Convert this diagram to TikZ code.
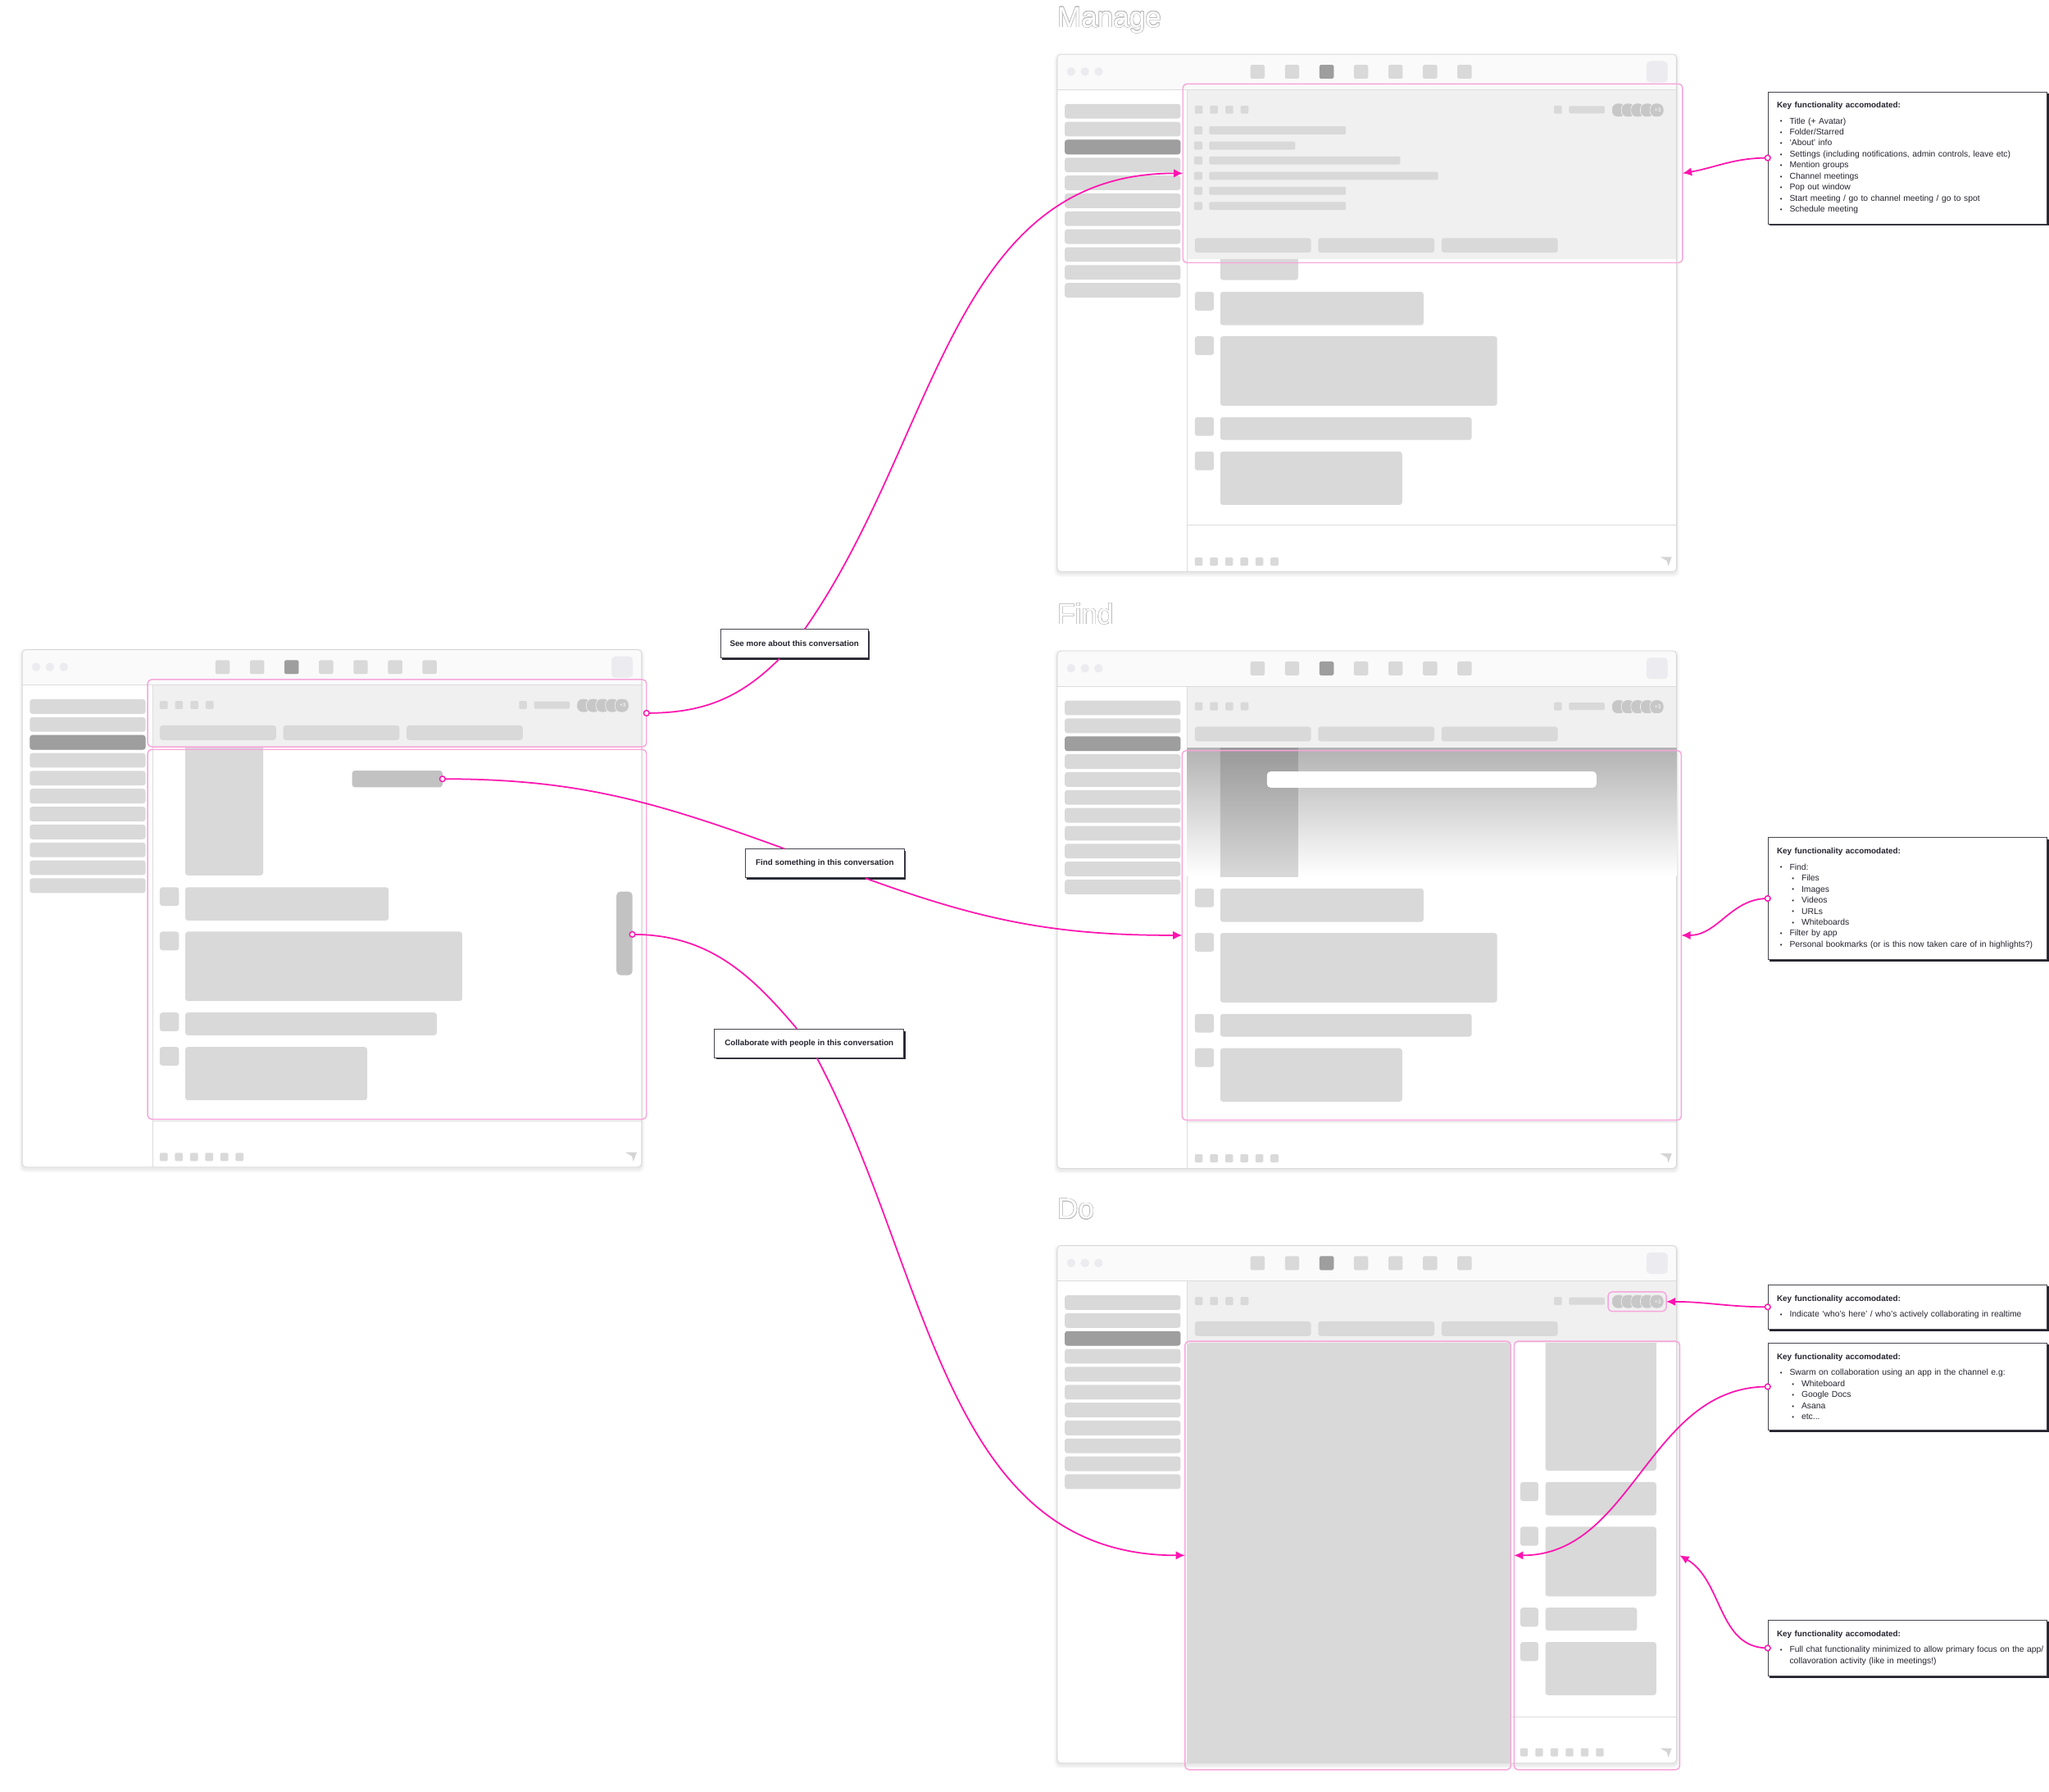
\documentclass[tikz,border=0pt]{standalone}
\usepackage{fontspec}
\setmainfont{Liberation Sans}
\usepackage{contour}
\usetikzlibrary{positioning, calc, arrows.meta, shadows}

\definecolor{hotpink}{HTML}{FF12B0}
\definecolor{softpink}{HTML}{F7A5DB}
\definecolor{ink}{HTML}{24242F}
\definecolor{skel}{HTML}{D9D9D9}
\definecolor{skeldark}{HTML}{9E9E9E}
\definecolor{skelmid}{HTML}{C2C2C2}
\definecolor{headbg}{HTML}{F0F0F0}
\definecolor{chromebg}{HTML}{FAFAFA}
\definecolor{dotgray}{HTML}{ECECF0}
\definecolor{rulegray}{HTML}{DCDCDC}

\contourlength{0.3pt}
\contournumber{32}

% bullets and headings for the key boxes
\newcommand{\kb}{\makebox[9.7pt][l]{\hspace{2.4pt}\raisebox{0.2pt}{\scalebox{0.75}{\textbullet}}}}
\newcommand{\kbb}{\hspace*{9.1pt}\kb}
\newcommand{\keyhead}{\bfseries\fontsize{6.2}{8.45}\selectfont}

\tikzset{
    skel/.style={fill=skel, rounded corners=1.6pt},
    skeldk/.style={fill=skeldark, rounded corners=1.6pt},
    seprule/.style={draw=rulegray, line width=0.5pt},
    focus/.style={draw=softpink, line width=0.9pt, rounded corners=3pt},
    link/.style={draw=hotpink, line width=1.1pt},
    linkto/.style={link, -{Latex[length=7pt, width=6.5pt]}},
    pin/.style={fill=white, draw=hotpink, line width=0.9pt},
    keybox/.style={draw=ink!85, fill=white, line width=0.6pt, anchor=north west,
        text width=200pt, inner xsep=6.8pt, align=left, text=ink,
        font=\fontsize{6.5}{8.45}\selectfont,
        drop shadow={shadow xshift=1.3pt, shadow yshift=-1.3pt, fill=ink, opacity=1}},
    tagbox/.style={draw=ink!85, fill=white, line width=0.6pt, text=ink, inner sep=0pt,
        font=\bfseries\fontsize{6.15}{7}\selectfont,
        drop shadow={shadow xshift=1.3pt, shadow yshift=-1.3pt, fill=ink, opacity=1}},
    screenttl/.style={anchor=base west, inner sep=0pt, text=white,
        font=\fontsize{22}{22}\selectfont},
}

% one chat window at the origin of the current scope
% #1 = prefix for node names, #2 = bottom of the channel header
\newcommand{\chatwin}[2]{%
    % frame and soft shadow
    \foreach \s/\o in {2.4/0.018, 1.6/0.025, 0.8/0.035}{
        \fill[black, opacity=\o, rounded corners=4pt] (-\s,{-\s+1.5}) rectangle ({474+\s},{396+\s+1.5});
    }
    \fill[white, rounded corners=3pt] (0,0) rectangle (474,396);

    % message list
    \begin{scope}
        \clip (99.6,#2) rectangle (474,396);
        \fill[skel, rounded corners=2pt] (124.8,60) rectangle (184.4,172.7);
    \end{scope}
    \foreach \ya/\xb/\yb in {181.8/280.4/207.3, 215.8/336.7/268.9, 277.7/317.2/295.1, 304/264/344.8}{
        \fill[skel, rounded corners=2pt] (105.3,\ya) rectangle ++(14.7,14.3);
        \fill[skel, rounded corners=2pt] (124.8,\ya) rectangle (\xb,\yb);
    }

    % channel header
    \fill[headbg] (99.6,27) rectangle (474,#2);
    \foreach \i in {0,...,3}{
        \fill[skel, rounded corners=0.8pt] ({105.3+11.7*\i},39.3) rectangle ++(6,6.2);
    }
    \fill[skel, rounded corners=0.8pt] (380.2,39.3) rectangle ++(6,6.2);
    \fill[skel, rounded corners=0.8pt] (391.7,39.6) rectangle (418.9,45.3);
    \foreach \i in {0,...,4}{
        \draw[fill=black!22, draw=black!5, line width=0.4pt, rounded corners=4.5pt]
            ({424.4+7.3*\i},37.5) rectangle ++(10.6,10.5);
    }
    \node[font=\fontsize{4.2}{4}\selectfont, text=white, inner sep=0pt] (#1plus) at (459.6,42.8) {+3};
    \foreach \x in {105.3, 199.7, 294.1}{
        \fill[skel, rounded corners=2pt] (\x,{#2-16.4}) rectangle ++(89,11.2);
    }

    % title bar
    \fill[chromebg, rounded corners=3pt] (0,0) rectangle (474,27);
    \fill[chromebg] (0,20) rectangle (474,27);
    \draw[seprule] (0,27) -- (474,27);
    \foreach \x in {10.6, 21.2, 31.7}{
        \fill[dotgray] (\x,13.3) circle (3.3pt);
    }
    \foreach \i in {0,...,6}{
        \fill[skel, rounded corners=1pt] ({147.9+26.4*\i},8.1) rectangle ++(10.9,10.6);
    }
    \fill[skeldk, rounded corners=1pt] (200.7,8.1) rectangle ++(10.9,10.6);
    \fill[dotgray, rounded corners=3pt] (450.9,5.2) rectangle (467.2,21.6);

    % sidebar
    \draw[seprule] (99.6,27) -- (99.6,396);
    \foreach \i in {0,...,10}{
        \fill[skel, rounded corners=2pt] (5.8,{38+13.7*\i}) rectangle ++(88.6,11.2);
    }
    \fill[skeldk, rounded corners=2pt] (5.8,65.4) rectangle ++(88.6,11.2);

    % composer
    \draw[seprule] (99.6,360.4) -- (474,360.4);
    \foreach \i in {0,...,5}{
        \fill[skel, rounded corners=0.8pt] ({105.3+11.6*\i},385.1) rectangle ++(6,6.2);
    }
    \fill[black!17] (461.5,384.6) -- (470.3,384.6) -- (467.6,391.6) -- (466.6,387.6) -- cycle;

    % outline
    \draw[black!16, line width=0.5pt, rounded corners=3pt] (0,0) rectangle (474,396);
}

\begin{document}
\begin{tikzpicture}[x=1pt, y=-1pt]

    % Canvas
    \useasboundingbox (0,0) rectangle (1568,1371);
    \fill[white] (0,0) rectangle (1568,1371);

    % Current conversation window
    \begin{scope}[shift={(17,497)}]
        \chatwin{cur}{74.4}
        \fill[skelmid, rounded corners=2pt] (252.5,92.6) rectangle (321.6,105.3);
        \fill[skelmid, rounded corners=3pt] (454.8,185.1) rectangle (466.9,249.1);
        \draw[focus] (96,22.9) rectangle (477.7,74.4);
        \draw[focus] (96,76.4) rectangle (477.7,359.3);
        \coordinate (srcAbout) at (477.7,48.6);
        \coordinate (srcFind) at (321.6,98.95);
        \coordinate (srcCollab) at (466.9,217.9);
    \end{scope}

    % Manage window
    \node[screenttl] (ttlManage) at (809,20.8) {\contour{black!25}{Manage}};
    \begin{scope}[shift={(809,41.5)}]
        \chatwin{man}{157}
        \foreach \yy/\xe in {58.2/221, 69.9/182.2, 81.3/262.4, 93/291.5, 104.5/221, 116.1/221}{
            \fill[skel, rounded corners=0.8pt] (104.8,{\yy-3.1}) rectangle ++(6.4,6.2);
            \fill[skel, rounded corners=0.8pt] (116.4,{\yy-3.1}) rectangle (\xe,{\yy+3.1});
        }
        \draw[focus] (96.2,22.7) rectangle (478.6,159.5);
        \coordinate (tgtManageL) at (96.2,91.1);
        \coordinate (tgtManageR) at (478.6,91.1);
    \end{scope}

    % Find window
    \node[screenttl] (ttlFind) at (809,477.6) {\contour{black!25}{Find}};
    \begin{scope}[shift={(809,498)}]
        \chatwin{fnd}{74.4}
        \shade[top color=black!30, bottom color=white] (99.6,74.4) rectangle (474,172.3);
        \shade[top color=black!40, bottom color=skel] (124.8,74.4) rectangle (184.4,172.7);
        \fill[white, rounded corners=3pt] (160.5,92.2) rectangle (412.7,104.7);
        \draw[focus] (95.6,76.3) rectangle (477.6,359);
        \coordinate (tgtFindL) at (95.6,217.6);
        \coordinate (tgtFindR) at (477.6,217.6);
    \end{scope}

    % Do window
    \node[screenttl] (ttlDo) at (809,932.5) {\contour{black!25}{Do}};
    \begin{scope}[shift={(809,953)}]
        \chatwin{do}{74.4}
        \fill[skel] (99.6,74.4) rectangle (347.1,396);
        \begin{scope}
            \clip (373.6,74.4) rectangle (458.4,180);
            \fill[skel, rounded corners=2pt] (373.6,60) rectangle (458.4,172.2);
        \end{scope}
        \foreach \ya/\xb/\yb in {180.9/458.4/206.4, 215.1/458.4/268.3, 277/443.7/294.6, 303.3/458.4/343.9}{
            \fill[skel, rounded corners=2pt] (354.4,\ya) rectangle ++(13.8,14.6);
            \fill[skel, rounded corners=2pt] (373.6,\ya) rectangle (\xb,\yb);
        }
        \foreach \i in {0,...,5}{
            \fill[skel, rounded corners=0.8pt] ({354.4+11.6*\i},384.5) rectangle ++(5.8,6.3);
        }
        \draw[focus] (421.6,35.4) rectangle (466.1,50.3);
        \draw[focus] (97.8,73.2) rectangle (347.1,401);
        \draw[focus] (349.6,73.2) rectangle (476.4,401);
        \coordinate (tgtDoAvatar) at (466.1,42.9);
        \coordinate (tgtDoApp) at (97.8,237);
        \coordinate (tgtDoChatL) at (349.6,237);
        \coordinate (tgtDoChatR) at (476.4,237);
    \end{scope}

    % Question labels
    \node[tagbox, minimum width=112.7pt, minimum height=22pt] (lblAbout) at (607.9,492.6)
        {See more about this conversation};
    \node[tagbox, minimum width=121.7pt, minimum height=21.9pt] (lblFind) at (631.2,660.6)
        {Find something in this conversation};
    \node[tagbox, minimum width=144.9pt, minimum height=21.7pt] (lblCollab) at (619.2,798.3)
        {Collaborate with people in this conversation};

    % Key functionality boxes
    \node[keybox, minimum height=101pt] (keyManage) at (1352.7,70) {%
        {\keyhead Key functionality accomodated:}\\[3.85pt]
        \kb Title (+ Avatar)\\
        \kb Folder/Starred\\
        \kb ‘About’ info\\
        \kb Settings (including notifications, admin controls, leave etc)\\
        \kb Mention groups\\
        \kb Channel meetings\\
        \kb Pop out window\\
        \kb Start meeting / go to channel meeting / go to spot\\
        \kb Schedule meeting};
    \node[keybox, minimum height=93.4pt] (keyFind) at (1352.7,640.4) {%
        {\keyhead Key functionality accomodated:}\\[3.85pt]
        \kb Find:\\
        \kbb Files\\
        \kbb Images\\
        \kbb Videos\\
        \kbb URLs\\
        \kbb Whiteboards\\
        \kb Filter by app\\
        \kb Personal bookmarks (or is this now taken care of in highlights?)};
    \node[keybox, minimum height=34.1pt] (keyWho) at (1352.7,982.6) {%
        {\keyhead Key functionality accomodated:}\\[3.85pt]
        \kb Indicate ‘who’s here’ / who’s actively collaborating in realtime};
    \node[keybox, minimum height=66.8pt] (keySwarm) at (1352.7,1027.2) {%
        {\keyhead Key functionality accomodated:}\\[3.85pt]
        \kb Swarm on collaboration using an app in the channel e.g:\\
        \kbb Whiteboard\\
        \kbb Google Docs\\
        \kbb Asana\\
        \kbb etc...};
    \node[keybox, minimum height=42.8pt] (keyFocus) at (1352.7,1239.2) {%
        {\keyhead Key functionality accomodated:}\\[3.85pt]
        \kb \mbox{Full chat functionality minimized to allow primary focus on the app/}\\
        \hspace*{9.7pt}collavoration activity (like in meetings!)};

    % Connectors from the current window
    \draw[link] (srcAbout) to[out=0, in=225] (lblAbout);
    \draw[linkto] (lblAbout) to[out=55, in=180] (tgtManageL);
    \draw[link] (srcFind) to[out=0, in=160] (lblFind);
    \draw[linkto] (lblFind) to[out=-20, in=180] (tgtFindL);
    \draw[link] (srcCollab) to[out=0, in=130] (lblCollab);
    \draw[linkto] (lblCollab) to[out=-62, in=180] (tgtDoApp);

    % Connectors from the key boxes
    \draw[linkto] (keyManage.west) to[out=180, in=10] (tgtManageR);
    \draw[linkto] (keyFind.west) to[out=180, in=0] (tgtFindR);
    \draw[linkto] (keyWho.west) to[out=180, in=0] (tgtDoAvatar);
    \draw[linkto] (keySwarm.west) to[out=180, in=0] (tgtDoChatL);
    \draw[linkto] (keyFocus.west) to[out=180, in=-30] (tgtDoChatR);

    % Start pins
    \foreach \p in {srcAbout, srcFind, srcCollab, keyManage.west, keyFind.west,
                    keyWho.west, keySwarm.west, keyFocus.west}{
        \draw[pin] (\p) circle (2.1pt);
    }

\end{tikzpicture}
\end{document}
